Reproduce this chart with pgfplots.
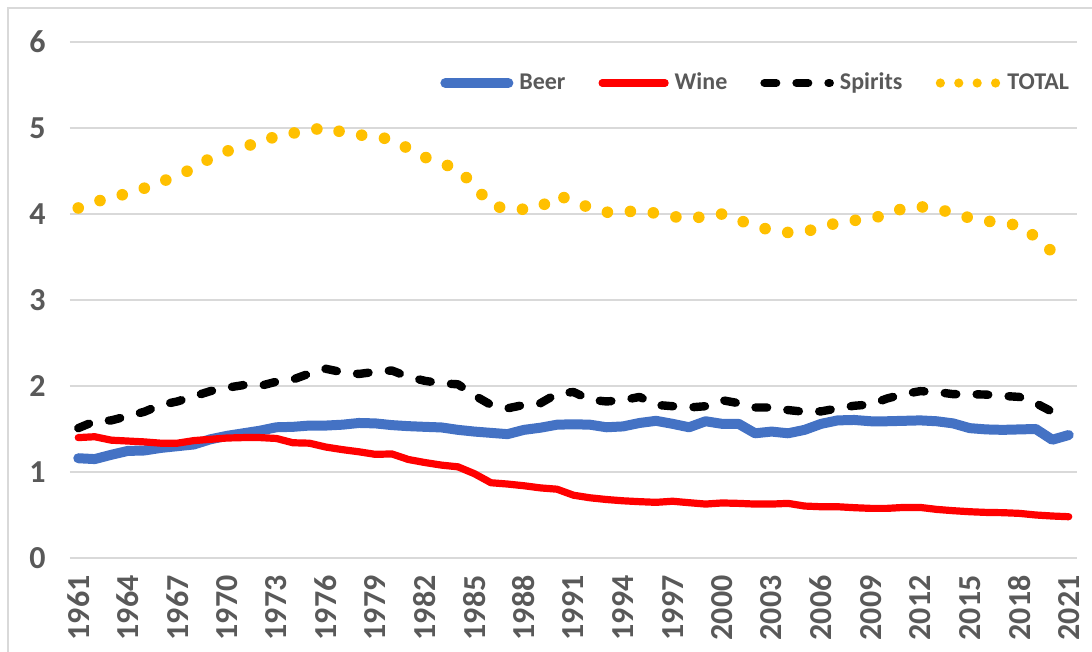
\documentclass[border=0pt]{standalone}
\usepackage{fontspec}
\setmainfont{Carlito}
\usepackage{pgfplots}
\usepackage{pgfplotstable}
\pgfplotsset{compat=1.18}
\definecolor{beercol}{HTML}{4472C4}
\definecolor{winecol}{HTML}{FF0000}
\definecolor{totalcol}{HTML}{FFC000}
\definecolor{gridgray}{HTML}{D9D9D9}
\definecolor{labelgray}{HTML}{595959}

% legend samples for the two patterned series
\pgfplotsset{
    spiritslegend/.style={legend image code/.code={\draw[##1] (0pt,0pt) -- (32.6pt,0pt);}},
    totallegend/.style={legend image code/.code={\path[draw=none] (0pt,0pt) -- (33pt,0pt);
        \draw[##1, line width=4.6pt, dash pattern=on 0pt off 9.2pt] (2.5pt,0pt) -- (30.5pt,0pt);}},
}

% litres of pure alcohol per capita, by beverage
\pgfplotstableread{
Year Beer Wine Spirits Total
1961 1.16 1.40 1.51 4.07
1962 1.15 1.41 1.59 4.14
1963 1.20 1.37 1.60 4.19
1964 1.245 1.36 1.65 4.24
1965 1.25 1.35 1.70 4.30
1966 1.28 1.335 1.78 4.37
1967 1.30 1.335 1.82 4.45
1968 1.32 1.365 1.88 4.53
1969 1.38 1.38 1.94 4.65
1970 1.42 1.395 1.98 4.73
1971 1.45 1.40 2.01 4.79
1972 1.48 1.40 2.00 4.82
1973 1.52 1.39 2.05 4.91
1974 1.525 1.34 2.075 4.94
1975 1.54 1.335 2.145 4.97
1976 1.54 1.29 2.20 5.01
1977 1.55 1.26 2.16 4.95
1978 1.57 1.235 2.14 4.92
1979 1.565 1.205 2.165 4.90
1980 1.545 1.21 2.18 4.865
1981 1.533 1.145 2.105 4.76
1982 1.525 1.11 2.06 4.66
1983 1.518 1.08 2.03 4.59
1984 1.49 1.06 2.02 4.52
1985 1.47 0.98 1.89 4.33
1986 1.455 0.875 1.78 4.10
1987 1.44 0.86 1.74 4.06
1988 1.49 0.84 1.78 4.055
1989 1.515 0.815 1.80 4.08
1990 1.55 0.80 1.91 4.22
1991 1.555 0.73 1.93 4.15
1992 1.55 0.70 1.84 4.07
1993 1.52 0.68 1.82 4.02
1994 1.53 0.665 1.835 4.03
1995 1.57 0.655 1.873 4.03
1996 1.595 0.647 1.78 4.01
1997 1.56 0.66 1.765 3.97
1998 1.52 0.643 1.75 3.95
1999 1.59 0.627 1.765 3.97
2000 1.56 0.64 1.835 4.00
2001 1.56 0.635 1.80 3.93
2002 1.45 0.627 1.75 3.86
2003 1.47 0.627 1.75 3.81
2004 1.45 0.635 1.72 3.785
2005 1.49 0.604 1.70 3.795
2006 1.56 0.596 1.705 3.84
2007 1.60 0.596 1.74 3.90
2008 1.605 0.585 1.77 3.925
2009 1.59 0.577 1.785 3.95
2010 1.59 0.577 1.855 3.99
2011 1.595 0.588 1.905 4.07
2012 1.60 0.588 1.94 4.085
2013 1.59 0.565 1.93 4.06
2014 1.565 0.55 1.905 4.01
2015 1.51 0.538 1.905 3.955
2016 1.495 0.53 1.90 3.92
2017 1.49 0.527 1.885 3.89
2018 1.495 0.519 1.873 3.87
2019 1.50 0.50 1.80 3.73
2020 1.375 0.488 1.70 3.56
2021 1.43 0.48 1.68 3.50
}\drinks

\begin{document}
\begin{tikzpicture}
\useasboundingbox (0,0) rectangle (546pt,326pt);
% chart area border (top and left visible)
\draw[gridgray, line width=0.6pt] (4pt,-10pt) -- (4pt,322pt) -- (560pt,322pt);
\begin{axis}[
    at={(35pt,47pt)}, anchor=south west,
    scale only axis,
    width=503.5pt, height=258pt,
    xmin=1960.5, xmax=2021.5,
    ymin=0, ymax=6,
    ytick={0,1,...,6},
    xtick={1961,1964,...,2021},
    axis line style={draw=none},
    major tick length=0pt,
    ymajorgrids,
    grid style={gridgray, line width=0.75pt},
    tick label style={font=\fontsize{16}{18}\selectfont\bfseries, text=labelgray},
    /pgf/number format/assume math mode=true,
    /pgf/number format/1000 sep={},
    yticklabel style={anchor=east, inner sep=0pt, xshift=-12pt},
    xticklabel style={rotate=90, anchor=east, inner sep=0pt},
    xticklabel shift=8.5pt,
    clip=false,
    legend columns=4,
    legend image code/.code={\draw[#1] (0pt,0pt) -- (31.5pt,0pt);},
    legend style={draw=none, fill=none, inner sep=0pt,
        at={(0.3674,0.9205)}, anchor=west,
        font=\fontsize{12}{14}\selectfont\bfseries, text=labelgray,
        nodes={inner sep=0pt},
        /tikz/every odd column/.append style={column sep=3pt},
        /tikz/every even column/.append style={column sep=16.5pt}},
]
\addplot[beercol, line width=5pt, line join=round, line cap=round] table[x=Year, y=Beer] {\drinks};
\addlegendentry{Beer}
\addplot[winecol, line width=3.6pt, line join=round, line cap=round] table[x=Year, y=Wine] {\drinks};
\addlegendentry{Wine}
\addplot[black, line width=4.2pt, line join=round, line cap=round, dash pattern=on 5.8pt off 10.2pt,
    spiritslegend] table[x=Year, y=Spirits] {\drinks};
\addlegendentry{Spirits}
\addplot[totalcol, line width=5.8pt, line join=round, line cap=round, dash pattern=on 0pt off 11.5pt,
    totallegend] table[x=Year, y=Total] {\drinks};
\addlegendentry{TOTAL}
\end{axis}
\end{tikzpicture}
\end{document}
